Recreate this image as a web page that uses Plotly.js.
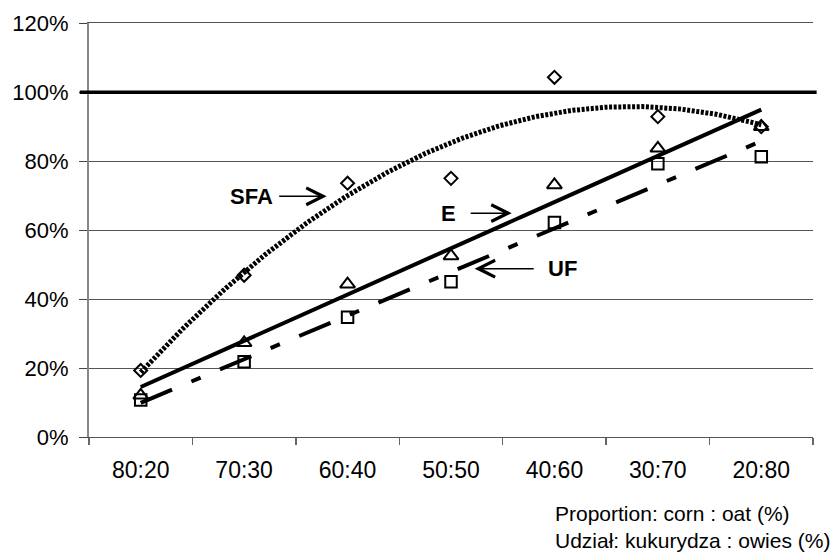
<!DOCTYPE html>
<html><head><meta charset="utf-8">
<script src="https://cdn.plot.ly/plotly-3.0.1.min.js"></script>
<style>html,body{margin:0;padding:0;background:#fff}</style>
</head><body><div id="chart" style="width:837px;height:559px"></div>
<script>
// ---- data ----
const categories = ['80:20', '70:30', '60:40', '50:50', '40:60', '30:70', '20:80'];
const sfaValues = [19.3, 46.9, 73.6, 75.0, 104.3, 92.9, 90.0];
const eValues   = [12.1, 27.3, 44.3, 52.5, 73.1, 83.7, 90.0];
const ufValues  = [10.7, 21.8, 34.7, 45.0, 62.2, 79.2, 81.3];
const referenceLevel = 100;
const yTickValues = [0, 20, 40, 60, 80, 100, 120];
const seriesLabels = ['SFA', 'E', 'UF'];
const xAxisNote = ['Proportion: corn : oat (%)', 'Udział: kukurydza : owies (%)'];

// ---- least-squares trendlines (as in the spreadsheet chart) ----
function polyfit(xs, ys, deg) {
  const n = deg + 1;
  const A = [], b = [];
  for (let i = 0; i < n; i++) {
    A.push([]);
    for (let j = 0; j < n; j++) A[i].push(xs.reduce((s, x) => s + Math.pow(x, i + j), 0));
    b.push(xs.reduce((s, x, k) => s + Math.pow(x, i) * ys[k], 0));
  }
  for (let c = 0; c < n; c++) {
    let p = c;
    for (let r = c + 1; r < n; r++) if (Math.abs(A[r][c]) > Math.abs(A[p][c])) p = r;
    [A[c], A[p]] = [A[p], A[c]]; [b[c], b[p]] = [b[p], b[c]];
    for (let r = c + 1; r < n; r++) {
      const f = A[r][c] / A[c][c];
      for (let k = c; k < n; k++) A[r][k] -= f * A[c][k];
      b[r] -= f * b[c];
    }
  }
  const coef = new Array(n).fill(0);
  for (let r = n - 1; r >= 0; r--) {
    let s = b[r];
    for (let k = r + 1; k < n; k++) s -= A[r][k] * coef[k];
    coef[r] = s / A[r][r];
  }
  return x => coef.reduce((s, c, i) => s + c * Math.pow(x, i), 0);
}

const xIdx = categories.map((_, i) => i);
const fine = [];
for (let i = 0; i <= (categories.length - 1) * 40; i++) fine.push(i / 40);

const sfaFit = polyfit(xIdx, sfaValues, 2);
const eFit = polyfit(xIdx, eValues, 1);
const ufFit = polyfit(xIdx, ufValues, 1);

const font = 'Liberation Sans, Arial, sans-serif';

const traces = [
  { x: fine, y: fine.map(sfaFit), mode: 'lines', line: { color: '#000', width: 5, dash: '3px,1.6px' }, hoverinfo: 'skip' },
  { x: fine, y: fine.map(eFit), mode: 'lines', line: { color: '#000', width: 4 }, hoverinfo: 'skip' },
  { x: fine, y: fine.map(ufFit), mode: 'lines', line: { color: '#000', width: 4, dash: '34px,21px,10px,21px' }, hoverinfo: 'skip' },
  { x: xIdx, y: sfaValues, mode: 'markers', name: 'SFA',
    marker: { symbol: 'diamond-open', size: 10, color: '#000', line: { width: 2, color: '#000' } } },
  { x: xIdx, y: eValues, mode: 'markers', name: 'E',
    marker: { symbol: 'triangle-up-open', size: 13, color: '#000', line: { width: 2, color: '#000' } } },
  { x: xIdx, y: ufValues, mode: 'markers', name: 'UF',
    marker: { symbol: 'square-open', size: 11.5, color: '#000', line: { width: 2, color: '#000' } } }
];

const arrowBase = { showarrow: true, arrowhead: 5, arrowsize: 2.2, arrowwidth: 1.5, arrowcolor: '#000',
  font: { family: font, size: 22, color: '#000' }, xref: 'x', yref: 'y', ay: 0 };

const layout = {
  width: 837, height: 559,
  margin: { l: 89, r: 24, t: 23, b: 122 },
  paper_bgcolor: '#fff', plot_bgcolor: '#fff',
  showlegend: false,
  font: { family: font, size: 22, color: '#000' },
  xaxis: {
    range: [-0.5, categories.length - 0.5],
    tickmode: 'array', tickvals: xIdx, ticktext: categories,
    ticks: '', showgrid: false, zeroline: false,
    showline: true, mirror: true, linecolor: '#555', linewidth: 1.2,
    ticklabelstandoff: 12,
    tickfont: { family: font, size: 23, color: '#000' },
    minor: { tickmode: 'array', tickvals: categories.map((_, i) => i - 0.5).concat([categories.length - 0.5]),
             ticks: 'outside', ticklen: 7, tickwidth: 1.5, tickcolor: '#666', showgrid: false }
  },
  yaxis: {
    range: [0, 120.05],
    tickmode: 'array', tickvals: yTickValues, ticktext: yTickValues.map(v => v + '%'),
    ticks: 'outside', ticklen: 8, tickwidth: 1, tickcolor: '#444',
    showgrid: true, gridcolor: '#555', gridwidth: 1,
    zeroline: false, showline: true, linecolor: '#888', linewidth: 2,
    ticklabelstandoff: 6,
    tickfont: { family: font, size: 22, color: '#000' }
  },
  shapes: [
    { type: 'line', xref: 'paper', yref: 'y', x0: -0.0128, x1: 1.005, y0: referenceLevel, y1: referenceLevel,
      line: { color: '#000', width: 3.5 } }
  ],
  annotations: [
    Object.assign({}, arrowBase, { text: '<b>' + seriesLabels[0] + '</b>', x: 1.798, y: 69.8, ax: -75.5, startstandoff: 5 }),
    Object.assign({}, arrowBase, { text: '<b>' + seriesLabels[1] + '</b>', x: 3.587, y: 64.9, ax: -63, startstandoff: 13 }),
    Object.assign({}, arrowBase, { text: '<b>' + seriesLabels[2] + '</b>', x: 3.229, y: 48.8, ax: 88, startstandoff: 13 }),
    { text: xAxisNote.join('<br>'), xref: 'paper', yref: 'paper', x: 0.641, y: -0.2184,
      xanchor: 'left', yanchor: 'middle', align: 'left', showarrow: false,
      font: { family: font, size: 21, color: '#000' } }
  ]
};

Plotly.newPlot('chart', traces, layout, { staticPlot: true, displayModeBar: false });
</script>
</body></html>
